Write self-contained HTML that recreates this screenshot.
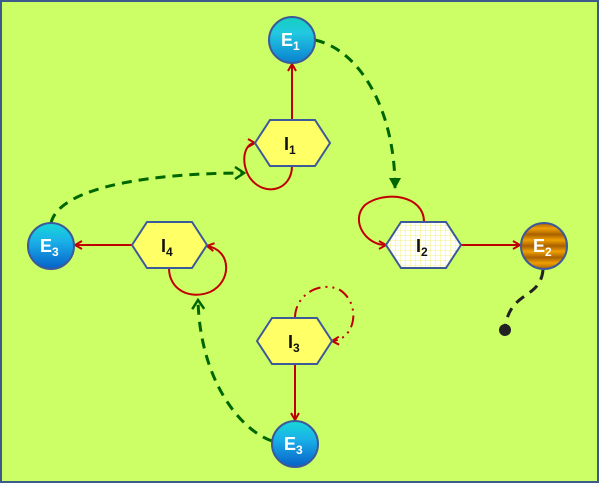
<!DOCTYPE html>
<html><head><style>html,body{margin:0;padding:0;background:#fff}svg{display:block}</style></head>
<body>
<svg width="600" height="485" viewBox="0 0 600 485" xmlns="http://www.w3.org/2000/svg" font-family="Liberation Sans, sans-serif">
<defs>
<linearGradient id="cy" x1="0" y1="0" x2="0" y2="1"><stop offset="0" stop-color="#12d0c0"/><stop offset="0.35" stop-color="#22c8e0"/><stop offset="1" stop-color="#0a80d0"/></linearGradient>
<linearGradient id="bl" x1="0" y1="0" x2="0" y2="1"><stop offset="0" stop-color="#18d8d8"/><stop offset="0.4" stop-color="#1ab0e8"/><stop offset="1" stop-color="#0660c8"/></linearGradient>
<linearGradient id="or" x1="0" y1="0" x2="0" y2="1"><stop offset="0" stop-color="#a86000"/><stop offset="0.12" stop-color="#f0a000"/><stop offset="0.25" stop-color="#a86000"/><stop offset="0.37" stop-color="#f0a000"/><stop offset="0.5" stop-color="#a86000"/><stop offset="0.62" stop-color="#f0a000"/><stop offset="0.75" stop-color="#a86000"/><stop offset="0.87" stop-color="#f0a000"/><stop offset="1" stop-color="#a86000"/></linearGradient>
<pattern id="grid" width="5" height="5" patternUnits="userSpaceOnUse"><rect width="5" height="5" fill="#fff"/><path d="M0 0H5M0 0V5" stroke="#f0f080" stroke-width="1"/></pattern>
<marker id="ar" markerWidth="10" markerHeight="10" refX="8" refY="5" orient="auto" markerUnits="userSpaceOnUse"><path d="M1 1L8 5L1 9" fill="none" stroke="#c00000" stroke-width="2"/></marker>
<marker id="ag" markerWidth="14" markerHeight="14" refX="11" refY="7" orient="auto" markerUnits="userSpaceOnUse"><path d="M2 1L11 7L2 13" fill="none" stroke="#006600" stroke-width="2.5"/></marker>
<marker id="agf" markerWidth="14" markerHeight="14" refX="11" refY="7" orient="auto" markerUnits="userSpaceOnUse"><path d="M1 1L12 7L1 13Z" fill="#006600"/></marker>
</defs>
<rect x="1" y="1" width="597" height="481" fill="#ccff66" stroke="#3c5a8c" stroke-width="2"/>

<g fill="none" stroke="#c00000" stroke-width="2">
<path d="M292 120V64" marker-end="url(#ar)"/>
<path d="M292 166C292 190 265 198 250 178C240 163 244 143 255 143" marker-end="url(#ar)"/>
<path d="M424 222C424 195 385 190 365 205C350 220 365 245 386 245" marker-end="url(#ar)"/>
<path d="M461 245H520" marker-end="url(#ar)"/>
<path d="M295 364V420" marker-end="url(#ar)"/>
<path d="M132 245H75" marker-end="url(#ar)"/>
<path d="M169 268C169 290 190 300 210 292C232 282 232 250 207 246" marker-end="url(#ar)"/>
<path d="M295 318C295 295 320 280 340 290C362 305 355 340 332 341" stroke-dasharray="12 5 2 5 2 5" marker-end="url(#ar)"/>
</g>
<g fill="none" stroke="#006600" stroke-width="3" stroke-dasharray="10 7">
<path d="M315 40C360 50 395 110 395 188" marker-end="url(#agf)"/>
<path d="M272 441C240 430 200 380 198 300" marker-end="url(#ag)"/>
<path d="M51 223C60 185 160 173 244 173" marker-end="url(#ag)"/>
</g>
<path d="M543 270C540 300 510 290 505 328" fill="none" stroke="#222" stroke-width="3" stroke-dasharray="10 7"/>
<circle cx="505" cy="330" r="6" fill="#222"/>

<g stroke="#3c5a9a" stroke-width="2">
<polygon points="255,143 270,120 315,120 330,143 315,166 270,166" fill="#ffff66"/>
<polygon points="386,245 401,222 446,222 461,245 446,268 401,268" fill="url(#grid)"/>
<polygon points="257,341 272,318 317,318 332,341 317,364 272,364" fill="#ffff66"/>
<polygon points="132,245 147,222 192,222 207,245 192,268 147,268" fill="#ffff66"/>
<circle cx="292" cy="40" r="23" fill="url(#cy)"/>
<circle cx="544" cy="246" r="23" fill="url(#or)"/>
<circle cx="295" cy="444" r="23" fill="url(#bl)"/>
<circle cx="51" cy="246" r="23" fill="url(#bl)"/>
</g>
<g font-weight="bold" font-size="18" fill="#111">
<text x="284" y="150">I<tspan font-size="12" dy="4">1</tspan></text>
<text x="416" y="252">I<tspan font-size="12" dy="4">2</tspan></text>
<text x="288" y="348">I<tspan font-size="12" dy="4">3</tspan></text>
<text x="161" y="252">I<tspan font-size="12" dy="4">4</tspan></text>
</g>
<g font-weight="bold" font-size="18" fill="#fff">
<text x="281" y="46">E<tspan font-size="12" dy="4">1</tspan></text>
<text x="533" y="252">E<tspan font-size="12" dy="4">2</tspan></text>
<text x="284" y="450">E<tspan font-size="12" dy="4">3</tspan></text>
<text x="40" y="252">E<tspan font-size="12" dy="4">3</tspan></text>
</g>
</svg>
</body></html>
